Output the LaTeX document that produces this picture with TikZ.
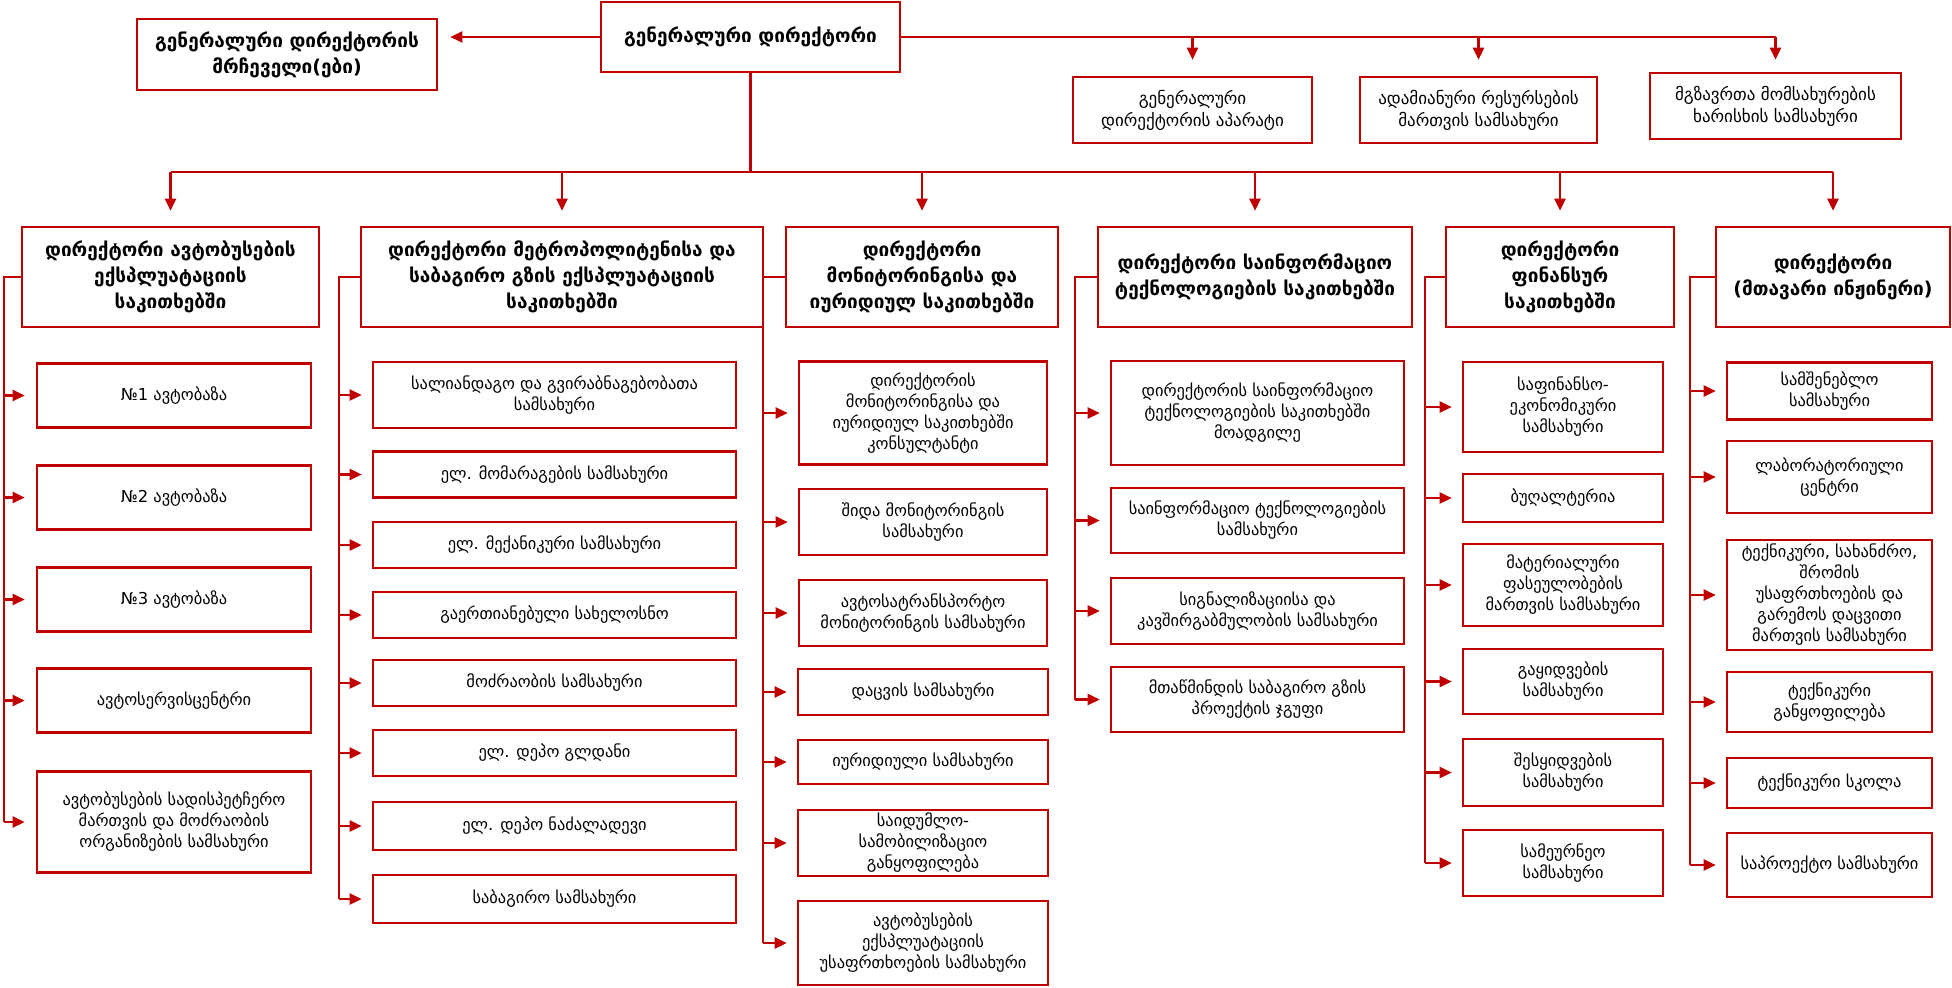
\documentclass[tikz,border=0pt]{standalone}
\usepackage{fontspec}
\setmainfont{DejaVu Sans}
\usetikzlibrary{arrows.meta}
\definecolor{dred}{RGB}{192,0,0}
\begin{document}
\begin{tikzpicture}[x=0.5pt,y=-0.5pt,
  ln/.style={draw=dred, line width=1.15pt},
  arr/.style={ln, -{Triangle[length=6pt,width=5.5pt]}},
  box/.style={draw=dred, line width=1.3pt, fill=white, inner sep=0pt, align=center, font={\fontsize{8.2}{10.5}\selectfont}},
  tbox/.style={box, font={\fontsize{8.5}{11}\selectfont}},
  hbox/.style={box, font={\bfseries\fontsize{9.5}{13}\selectfont}},
  sz/.style 2 args={minimum width=#1*0.5pt, minimum height=#2*0.5pt}
]
\fill[white] (0,0) rectangle (1952,987);
\useasboundingbox (0,0) rectangle (1952,987);

% top level
\node[hbox, sz={299}{70}] (gd) at (750.5,37) {გენერალური დირექტორი};
\node[hbox, sz={300}{71}] (dep) at (287,54.5) {გენერალური დირექტორის\\მრჩეველი(ები)};
\node[tbox, sz={239}{66}] (t1) at (1192.5,110) {გენერალური\\დირექტორის აპარატი};
\node[tbox, sz={237}{66}] (t2) at (1478.5,110) {ადამიანური რესურსების\\მართვის სამსახური};
\node[tbox, sz={251}{66}] (t3) at (1775.5,106) {მგზავრთა მომსახურების\\ხარისხის სამსახური};

\draw[arr, shorten >=6pt] (gd.west) -- (gd.west -| dep.east);
\draw[ln] (gd.east) -- (gd.east -| t3.north);
\draw[arr, shorten >=8pt] (gd.east -| t1.north) -- (t1.north);
\draw[arr, shorten >=8pt] (gd.east -| t2.north) -- (t2.north);
\draw[arr, shorten >=6pt] (gd.east -| t3.north) -- (t3.north);

% directors
\node[hbox, sz={297}{100}] (d1) at (170.5,277) {დირექტორი ავტობუსების\\ექსპლუატაციის\\საკითხებში};
\node[hbox, sz={402}{100}] (d2) at (562,277) {დირექტორი მეტროპოლიტენისა და\\საბაგირო გზის ექსპლუატაციის\\საკითხებში};
\node[hbox, sz={272}{100}] (d3) at (922,277) {დირექტორი\\მონიტორინგისა და\\იურიდიულ საკითხებში};
\node[hbox, sz={314}{100}] (d4) at (1255,277) {დირექტორი საინფორმაციო\\ტექნოლოგიების საკითხებში};
\node[hbox, sz={228}{100}] (d5) at (1560,277) {დირექტორი\\ფინანსურ\\საკითხებში};
\node[hbox, sz={234}{100}] (d6) at (1833,277) {დირექტორი\\(მთავარი ინჟინერი)};

\coordinate (bus) at (750,172);
\draw[ln] (gd.south) -- (gd.south |- bus);
\draw[ln] (d1.north |- bus) -- (d6.north |- bus);
\foreach \d in {d1,d2,d3,d4,d5,d6}
  \draw[arr, shorten >=7.5pt] (\d.north |- bus) -- (\d.north);

% column 1
\node[box, sz={274}{64}] (c11) at (174,395.5) {№1 ავტობაზა};
\node[box, sz={274}{64}] (c12) at (174,497.5) {№2 ავტობაზა};
\node[box, sz={274}{64}] (c13) at (174,599.5) {№3 ავტობაზა};
\node[box, sz={274}{64}] (c14) at (174,700.5) {ავტოსერვისცენტრი};
\node[box, sz={274}{101}] (c15) at (174,822) {ავტობუსების სადისპეტჩერო\\მართვის და მოძრაობის\\ორგანიზების სამსახური};

% column 2
\node[box, sz={363}{66}] (c21) at (554.5,395) {სალიანდაგო და გვირაბნაგებობათა\\სამსახური};
\node[box, sz={363}{46}] (c22) at (554.5,474.5) {ელ. მომარაგების სამსახური};
\node[box, sz={363}{46}] (c23) at (554.5,545) {ელ. მექანიკური სამსახური};
\node[box, sz={363}{46}] (c24) at (554.5,615) {გაერთიანებული სახელოსნო};
\node[box, sz={363}{46}] (c25) at (554.5,683) {მოძრაობის სამსახური};
\node[box, sz={363}{46}] (c26) at (554.5,753) {ელ. დეპო გლდანი};
\node[box, sz={363}{48}] (c27) at (554.5,826) {ელ. დეპო ნაძალადევი};
\node[box, sz={363}{48}] (c28) at (554.5,899) {საბაგირო სამსახური};

% column 3
\node[box, sz={248}{103}] (c31) at (923,413) {დირექტორის\\მონიტორინგისა და\\იურიდიულ საკითხებში\\კონსულტანტი};
\node[box, sz={248}{66}] (c32) at (923,522) {შიდა მონიტორინგის\\სამსახური};
\node[box, sz={248}{66}] (c33) at (923,613) {ავტოსატრანსპორტო\\მონიტორინგის სამსახური};
\node[box, sz={250}{46}] (c34) at (923,692) {დაცვის სამსახური};
\node[box, sz={250}{44}] (c35) at (923,762) {იურიდიული სამსახური};
\node[box, sz={250}{66}] (c36) at (923,843) {საიდუმლო-\\სამობილიზაციო\\განყოფილება};
\node[box, sz={250}{84}] (c37) at (923,943) {ავტობუსების\\ექსპლუატაციის\\უსაფრთხოების სამსახური};

% column 4
\node[box, sz={293}{104}] (c41) at (1257.5,413) {დირექტორის საინფორმაციო\\ტექნოლოგიების საკითხებში\\მოადგილე};
\node[box, sz={293}{65}] (c42) at (1257.5,520.5) {საინფორმაციო ტექნოლოგიების\\სამსახური};
\node[box, sz={293}{66}] (c43) at (1257.5,611) {სიგნალიზაციისა და\\კავშირგაბმულობის სამსახური};
\node[box, sz={293}{65}] (c44) at (1257.5,699.5) {მთაწმინდის საბაგირო გზის\\პროექტის ჯგუფი};

% column 5
\node[box, sz={200}{90}] (c51) at (1563,407) {საფინანსო-\\ეკონომიკური\\სამსახური};
\node[box, sz={200}{48}] (c52) at (1563,498) {ბუღალტერია};
\node[box, sz={200}{82}] (c53) at (1563,585) {მატერიალური\\ფასეულობების\\მართვის სამსახური};
\node[box, sz={200}{65}] (c54) at (1563,681.5) {გაყიდვების\\სამსახური};
\node[box, sz={200}{67}] (c55) at (1563,772.5) {შესყიდვების\\სამსახური};
\node[box, sz={200}{66}] (c56) at (1563,863) {სამეურნეო\\სამსახური};

% column 6
\node[box, sz={205}{57}] (c61) at (1829.5,391) {სამშენებლო\\სამსახური};
\node[box, sz={205}{72}] (c62) at (1829.5,477) {ლაბორატორიული\\ცენტრი};
\node[box, sz={205}{110}] (c63) at (1829.5,595) {ტექნიკური, სახანძრო,\\შრომის\\უსაფრთხოების და\\გარემოს დაცვითი\\მართვის სამსახური};
\node[box, sz={205}{60}] (c64) at (1829.5,702) {ტექნიკური\\განყოფილება};
\node[box, sz={205}{50}] (c65) at (1829.5,783) {ტექნიკური სკოლა};
\node[box, sz={205}{64}] (c66) at (1829.5,865) {საპროექტო სამსახური};

% trunks
\coordinate (k1) at (4,822);
\coordinate (k2) at (339,899);
\coordinate (k3) at (763,943);
\coordinate (k4) at (1075,699.5);
\coordinate (k5) at (1425,863);
\coordinate (k6) at (1690,865);
\draw[ln] (d1.west) -| (k1);
\draw[ln] (d2.west) -| (k2);
\draw[ln] (d3.west) -| (k3);
\draw[ln] (d4.west) -| (k4);
\draw[ln] (d5.west) -| (k5);
\draw[ln] (d6.west) -| (k6);

\foreach \c in {c11,c12,c13,c14,c15}
  \draw[arr, shorten >=5.5pt] (k1 |- \c.west) -- (\c.west);
\foreach \c in {c21,c22,c23,c24,c25,c26,c27,c28}
  \draw[arr, shorten >=5pt] (k2 |- \c.west) -- (\c.west);
\foreach \c in {c31,c32,c33,c34,c35,c36,c37}
  \draw[arr, shorten >=5pt] (k3 |- \c.west) -- (\c.west);
\foreach \c in {c41,c42,c43,c44}
  \draw[arr, shorten >=5pt] (k4 |- \c.west) -- (\c.west);
\foreach \c in {c51,c52,c53,c54,c55,c56}
  \draw[arr, shorten >=5pt] (k5 |- \c.west) -- (\c.west);
\foreach \c in {c61,c62,c63,c64,c65,c66}
  \draw[arr, shorten >=5pt] (k6 |- \c.west) -- (\c.west);
\end{tikzpicture}
\end{document}
